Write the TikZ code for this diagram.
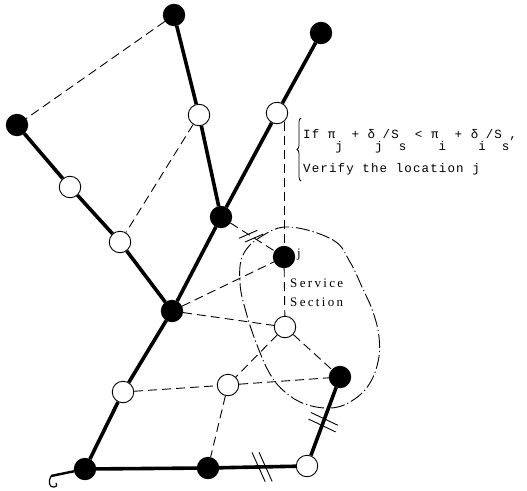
\documentclass[tikz,border=0pt]{standalone}
\usepackage{fontspec}
\setmainfont{Liberation Serif}
\newfontfamily\dotfont[LetterSpace=9]{Liberation Mono}
\newfontfamily\labfont[LetterSpace=18]{Liberation Serif}
\usetikzlibrary{decorations.markings,decorations.pathreplacing}
\begin{document}
\begin{tikzpicture}[x=1pt,y=-1pt,
  blk/.style={circle,fill=black,draw=black,line width=0.8pt,minimum size=21.5pt,inner sep=0pt},
  opn/.style={circle,fill=white,draw=black,line width=0.9pt,minimum size=21.5pt,inner sep=0pt},
  road/.style={line width=3.6pt},
  link/.style={line width=0.9pt,dash pattern=on 9pt off 5pt},
  area/.style={line width=0.9pt,dash pattern=on 14pt off 3pt on 1.2pt off 3pt},
  ticks/.style n args={3}{postaction={decorate,decoration={markings,
     mark=at position #1 with {
       \draw[solid,line width=0.9pt] (-3.5pt,0pt) +(#2:#3) -- +(#2+180:#3);
       \draw[solid,line width=0.9pt] (3.5pt,0pt) +(#2:#3) -- +(#2+180:#3);}}}}
]
\useasboundingbox (0,0) rectangle (527,490);
% nodes
\node[blk] (A) at (174,15) {};
\node[blk] (B) at (321,33) {};
\node[blk] (C) at (17,125) {};
\node[opn] (D) at (199,115) {};
\node[opn] (E) at (277,113) {};
\node[blk] (F) at (221,217) {};
\node[opn] (G) at (70,187) {};
\node[opn] (H) at (120,242) {};
\node[blk] (I) at (172,311) {};
\node[blk] (J) at (284,257) {};
\node[opn] (K) at (285,327) {};
\node[blk] (L) at (340,377) {};
\node[opn] (M) at (228,385) {};
\node[opn] (N) at (123,392) {};
\node[blk] (O) at (85,469) {};
\node[blk] (P) at (208,468) {};
\node[opn] (Q) at (307,466) {};
\coordinate (T) at (51,476);
% service section
\draw[area] plot[smooth cycle,tension=0.65] coordinates {
  (290,227) (333,240) (350,262) (362,287) (373,312) (379,337) (378,362)
  (368,386) (350,402) (330,408) (305,404) (285,392) (270,374) (257,345)
  (246,312) (240,283) (243,255) (262,236)};
% thick roads
\draw[road] (A) -- (D) -- (F);
\draw[road] (B) -- (E) -- (F);
\draw[road] (F) -- (I);
\draw[road] (C) -- (G) -- (H) -- (I);
\draw[road] (I) -- (N) -- (O);
\draw[road,ticks={0.56}{113}{16pt}] (P) -- (Q);
\draw[road] (O) -- (P);
\draw[road,ticks={0.49}{-95}{15pt}] (Q) -- (L);
\draw[road,line width=2.4pt] (O) -- (T);
\draw[line width=1.2pt] (T) .. controls (48,481) and (49,488) .. (54,487) .. controls (57,486) .. (56,483);
% dashed links
\draw[link] (A) -- (C);
\draw[link] (D) -- (H);
\draw[link] (E.-50) -- (E.-50 |- J.north);
\draw[link,ticks={0.47}{56}{10pt}] (F) -- (J);
\draw[link] (I) -- (J);
\draw[link] (I) -- (K);
\draw[link] (J) -- (K);
\draw[link] (K) -- (M);
\draw[link] (K) -- (L);
\draw[link] (N) -- (M);
\draw[link] (M) -- (L);
\draw[link] (M) -- (P);
% labels
\node[anchor=base west,font=\fontsize{13}{13}\selectfont,inner sep=0pt] (jl) at (297,257) {j};
\node[anchor=base west,font=\labfont\fontsize{13}{13}\selectfont,inner sep=0pt] (s1) at (290,287) {Service};
\node[anchor=base west,font=\labfont\fontsize{13}{13}\selectfont,inner sep=0pt] (s2) at (290,306) {Section};
\node[anchor=base west,font=\dotfont\fontsize{12.5}{12}\selectfont,inner sep=0pt] (f1) at (303,138)
  {If π\raisebox{-12pt}{j} + δ\raisebox{-12pt}{j}/S\raisebox{-12pt}{s} < π\raisebox{-12pt}{i} + δ\raisebox{-12pt}{i}/S\raisebox{-12pt}{s},};
\node[anchor=base west,font=\dotfont\fontsize{12.5}{12}\selectfont,inner sep=0pt] (f2) at (303,172) {Verify the location j};
\draw[line width=0.8pt,decorate,decoration={brace,amplitude=4pt}] (301,181) -- (301,118);
\end{tikzpicture}
\end{document}
